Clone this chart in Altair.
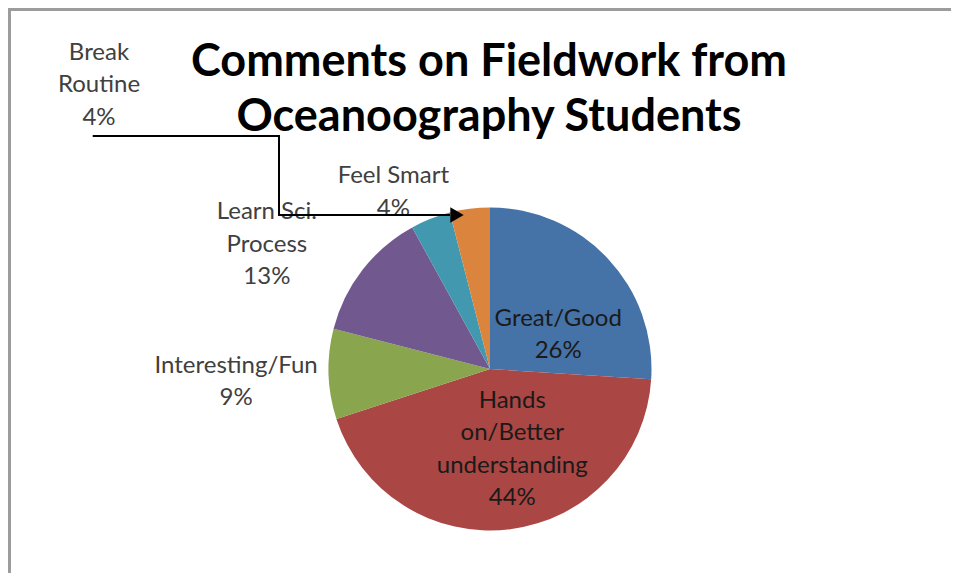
import altair as alt
import pandas as pd

# ---------------- data ----------------
categories = ["Great/Good", "Hands on/Better understanding", "Interesting/Fun",
              "Learn Sci. Process", "Feel Smart", "Break Routine"]
percentages = [26, 44, 9, 13, 4, 4]
label_lines = [["Great/Good"], ["Hands", "on/Better", "understanding"], ["Interesting/Fun"],
               ["Learn Sci.", "Process"], ["Feel Smart"], ["Break", "Routine"]]
slice_colors = ["#4572A7", "#AA4643", "#89A54E", "#71588F", "#4198AF", "#DB843D"]
title_lines = ["Comments on Fieldwork from", "Oceanoography Students"]

df = pd.DataFrame({
    "category": categories,
    "pct": percentages,
    "order": list(range(len(categories))),
    "label": ["\n".join(l + [f"{p}%"]) for l, p in zip(label_lines, percentages)],
})

# ---------------- layout / style ----------------
W, H = 943, 565
CX, CY, R = 482, 361, 161.5
FONT = "Lato"
LH = 32.5
# per-label placement: (radius along slice mid-angle, dx, dy of block centre, color)
label_layout = [
    (73, 15, 16, "#1a1a1a"),
    (82, 12, -1, "#1a1a1a"),
    (254, 0, 5, "#404040"),
    (252, -24, 30, "#404040"),
    (200, -23, 9.5, "#404040"),
    (331, -349.5, 44.5, "#404040"),
]

base = alt.Chart(df).encode(
    theta=alt.Theta("pct:Q", stack=True),
    order=alt.Order("order:Q"),
)

pie = base.mark_arc(outerRadius=R, stroke=None).encode(
    x=alt.value(CX), y=alt.value(CY),
    color=alt.Color("category:N", sort=None,
                    scale=alt.Scale(domain=categories, range=slice_colors),
                    legend=None),
)

label_layers = []
for i, (rad, dx, dy, col) in enumerate(label_layout):
    n_lines = len(label_lines[i]) + 1
    label_layers.append(
        base.transform_calculate(t=f"datum.order == {i} ? datum.label : ''")
        .mark_text(font=FONT, fontSize=24, color=col, align="center", baseline="middle",
                   lineBreak="\n", lineHeight=LH, radius=rad, dx=dx,
                   dy=dy - (n_lines - 1) * LH / 2)
        .encode(x=alt.value(CX), y=alt.value(CY), text="t:N")
    )

one = alt.Data(values=[{}])

title = alt.Chart(one).mark_text(
    text=title_lines, font=FONT, fontSize=45, fontWeight="bold", color="#000000",
    align="center", baseline="alphabetic", lineHeight=55,
).encode(x=alt.value(481), y=alt.value(68))

def rule(x1, x2, y1, y2, color="#000000", w=2):
    return alt.Chart(one).mark_rule(color=color, strokeWidth=w).encode(
        x=alt.value(x1), x2=alt.value(x2), y=alt.value(y1), y2=alt.value(y2))

border = [rule(0, W, 1.5, 1.5, "#9c9c9c", 3), rule(1.5, 1.5, 0, H, "#9c9c9c", 3)]
arrow = [rule(84.7, 272, 128, 128), rule(271, 271, 128, 208), rule(270, 442, 207, 207)]
arrow_head = alt.Chart(one).mark_point(
    shape="triangle-right", filled=True, fill="#000000", stroke=None, size=240, opacity=1
).encode(x=alt.value(449), y=alt.value(207))

chart = alt.layer(pie, *label_layers, title, *border, *arrow, arrow_head).properties(
    width=W, height=H, padding=0, autosize=alt.AutoSizeParams(type="none"),
    background="white",
).configure_view(stroke=None)

chart.save("out.html", embed_options={"renderer": "svg", "actions": False})
